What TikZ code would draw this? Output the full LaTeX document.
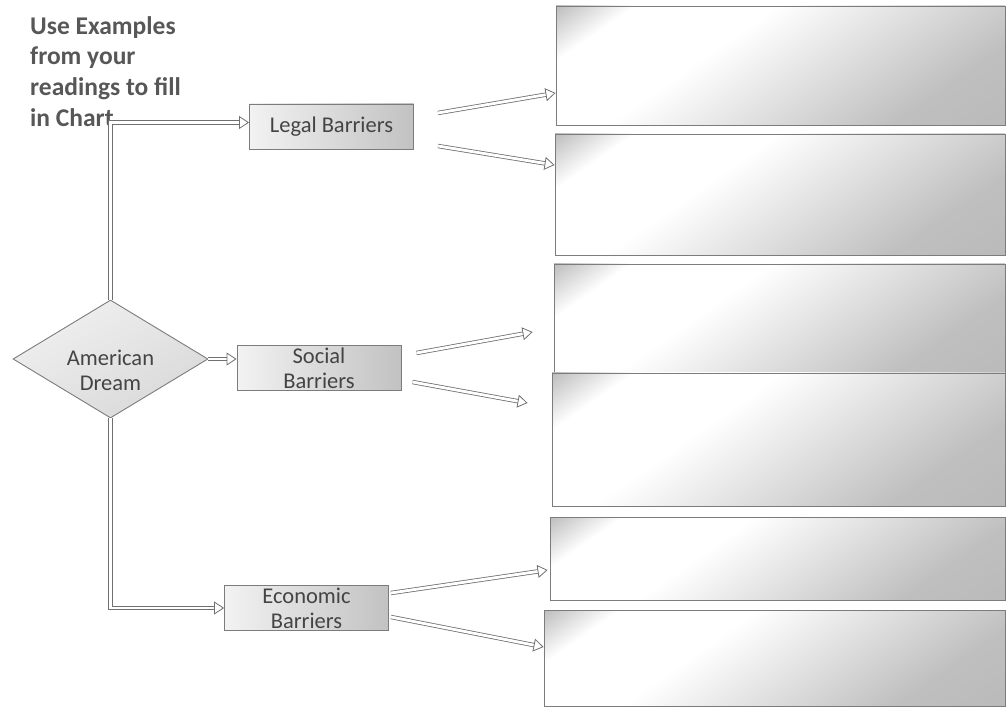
\documentclass[tikz,border=0pt]{standalone}
\usepackage{fontspec}
\setmainfont{Carlito}
\usetikzlibrary{shapes.geometric, arrows.meta, positioning, calc}
\definecolor{inkGray}{HTML}{444444}
\definecolor{lineGray}{HTML}{7C7C7C}
\definecolor{cornerGray}{HTML}{8C8C8C}
\definecolor{farGray}{HTML}{B4B4B4}
\pgfdeclarehorizontalshading{answershade}{100bp}{
  color(0bp)=(cornerGray); color(11bp)=(cornerGray!85!white); color(24bp)=(white);
  color(40bp)=(white); color(72bp)=(farGray!85!white); color(100bp)=(farGray)}
\tikzset{
  chart/.style = {
    font=\fontsize{22.5}{25}\selectfont, text=inkGray,
  },
  intro/.style = {
    font=\bfseries\fontsize{25.5}{30.7}\selectfont, text=inkGray!90,
    align=left, anchor=north west, inner sep=0pt,
  },
  barrier/.style = {
    rectangle, draw=lineGray, line width=0.9pt,
    left color=gray!10, right color=gray!48,
    minimum width=164pt, minimum height=45pt, align=center, inner sep=0pt,
  },
  dreambox/.style = {
    diamond, draw=lineGray, line width=0.9pt,
    top color=gray!12, bottom color=gray!30, shading angle=30,
    minimum width=195pt, minimum height=118pt, inner sep=0pt,
  },
  answer/.style = {
    rectangle, draw=lineGray, line width=0.9pt,
    shading=answershade, shading angle=-55, inner sep=0pt,
  },
  hollow/.style = {
    draw=lineGray!90!black, line width=0.8pt, double=white, double distance=2.8pt,
    -{Triangle[open, length=10pt, width=13pt]},
  },
}

\begin{document}
\begin{tikzpicture}[chart, x=1pt, y=-1pt]
\useasboundingbox (0,0) rectangle (1007,708);

\node[intro] (note) at (30,16) {Use Examples\\from your\\readings to fill\\in Chart};

\node[dreambox] (dream)  at (110.5,359) {};
\node[align=center, inner sep=0pt] (dreamlbl) at (110.5,370) {American\\Dream};
\node[barrier]  (legal)  at (331.5,126.5) {Legal Barriers};
\node[barrier]  (social) at (319,368) {Social\\Barriers};
\node[barrier]  (econ)   at (306.5,608) {Economic\\Barriers};

% boxes to fill in
\node[answer, minimum width=449pt, minimum height=119pt] (b1) at (780.5,65.5) {};
\node[answer, minimum width=450pt, minimum height=121pt] (b2) at (780,194.5) {};
\node[answer, minimum width=451pt, minimum height=110pt] (b3) at (779.5,319) {};
\node[answer, minimum width=453pt, minimum height=133pt] (b4) at (778.5,439.5) {};
\node[answer, minimum width=455pt, minimum height=83pt]  (b5) at (777.5,558.5) {};
\node[answer, minimum width=461pt, minimum height=96pt]  (b6) at (774.5,658) {};

\draw[hollow] (dream.north) |- ([yshift=4pt]legal.west);
\draw[hollow] (dream.east) -- (dream.east -| social.west);
\draw[hollow] (dream.south) |- (econ.west);

\draw[hollow] ([xshift=24pt, yshift=13.5pt]legal.east) -- ([yshift=-27.5pt]b1.west);
\draw[hollow] ([xshift=24pt, yshift=-19.5pt]legal.east) -- ([yshift=29.5pt]b2.west);
\draw[hollow] ([xshift=15pt, yshift=15pt]social.east) -- ([xshift=-21pt, yshift=-13pt]b3.west);
\draw[hollow] ([xshift=11pt, yshift=-14pt]social.east) -- ([xshift=-24pt, yshift=36.5pt]b4.west);
\draw[hollow] ([xshift=2pt, yshift=15pt]econ.east) -- ([xshift=-2pt, yshift=-11.5pt]b5.west);
\draw[hollow] ([xshift=2pt, yshift=-9pt]econ.east) -- ([yshift=11pt]b6.west);

\end{tikzpicture}
\end{document}
